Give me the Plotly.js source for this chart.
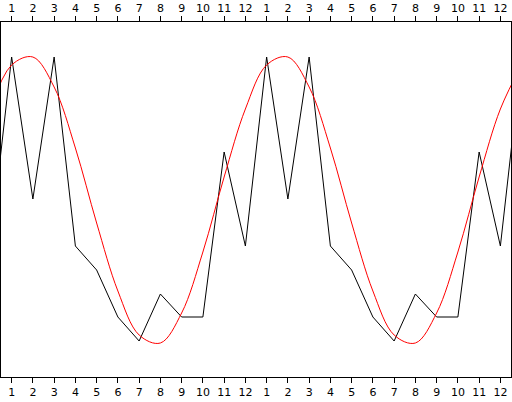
<!DOCTYPE html>
<html>
<head>
<meta charset="utf-8">
<script src="https://cdn.plot.ly/plotly-3.0.1.min.js"></script>
<style>html,body{margin:0;padding:0;background:#fff;}#chart{width:512px;height:402px;}</style>
</head>
<body>
<div id="chart"></div>
<script>
// Month tick labels (two years shown)
var months = ["1","2","3","4","5","6","7","8","9","10","11","12"];
// Observed monthly values (black line)
var observed = [320, 178, 320, 131, 107, 60, 36, 83, 60, 60, 225, 131];
// Fitted seasonal curve read at each month (red line)
var fitted = [312, 320, 290, 229, 154, 86, 42, 34, 64, 125, 200, 268];

function twoYears(vals) {
  // previous December, two years, next January (curve runs off both edges)
  return [vals[vals.length - 1]].concat(vals, vals, [vals[0]]);
}
var xs = [];
for (var i = -1; i <= 24; i++) xs.push(i);
var tickvals = [], ticktext = [];
for (var k = 0; k < 24; k++) { tickvals.push(k); ticktext.push(months[k % 12]); }

var font = {family: "DejaVu Sans, Verdana, sans-serif", size: 11, color: "#000"};
var axisCommon = {
  range: [-0.5, 23.5], tickmode: "array", tickvals: tickvals, ticktext: ticktext,
  ticks: "outside", ticklen: 5, tickwidth: 1, tickcolor: "#000",
  showline: true, linecolor: "#000", linewidth: 1,
  showgrid: false, zeroline: false, tickfont: font, fixedrange: true
};

var data = [
  {x: xs, y: twoYears(observed), type: "scatter", mode: "lines",
   line: {color: "#000", width: 1}, xaxis: "x", yaxis: "y", hoverinfo: "none"},
  {x: xs, y: twoYears(fitted), type: "scatter", mode: "lines",
   line: {color: "#ff0000", width: 1, shape: "spline", smoothing: 1}, xaxis: "x2", yaxis: "y", hoverinfo: "none"}
];

var layout = {
  width: 512, height: 402,
  margin: {l: 1, r: 1, t: 22, b: 25, pad: 0},
  paper_bgcolor: "#fff", plot_bgcolor: "#fff",
  showlegend: false,
  xaxis: Object.assign({}, axisCommon, {side: "bottom"}),
  xaxis2: Object.assign({}, axisCommon, {side: "top", overlaying: "x", anchor: "y"}),
  yaxis: {range: [0, 355], showline: true, mirror: true, linecolor: "#000", linewidth: 1,
          showgrid: false, zeroline: false, showticklabels: false, ticks: "", fixedrange: true}
};

Plotly.newPlot("chart", data, layout, {displayModeBar: false, staticPlot: true});
</script>
</body>
</html>
